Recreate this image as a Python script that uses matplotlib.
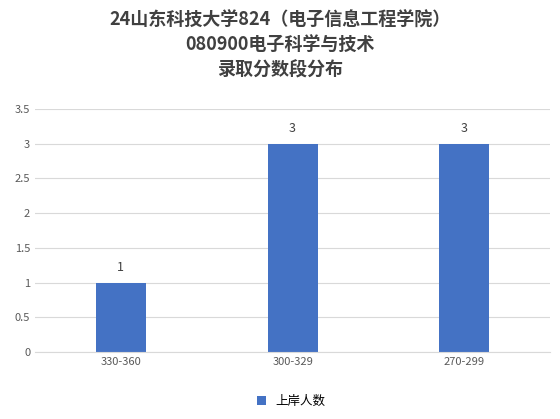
import matplotlib
matplotlib.use("Agg")
import matplotlib.pyplot as plt

categories = ["330-360", "300-329", "270-299"]
values = [1, 3, 3]
yticks = [0, 0.5, 1, 1.5, 2, 2.5, 3, 3.5]

plt.rcParams['font.family'] = ['Noto Sans CJK SC', 'DejaVu Sans']
fig = plt.figure(figsize=(5.6, 4.19), dpi=100)
ax = fig.add_axes([0.0625, 0.16, 0.92, 0.58])
x = range(len(categories))
bars = ax.bar(x, values, width=0.29, color="#4472C4")
for i, v in zip(x, values):
    ax.text(i, v + 0.12, str(v), ha="center", va="bottom", fontsize=9, color="#404040")
ax.set_xticks(list(x))
ax.set_xticklabels(categories, fontsize=8, color="#595959")
ax.set_yticks(yticks)
ax.set_yticklabels([f"{t:g}" for t in yticks], fontsize=8, color="#595959")
ax.set_ylim(0, 3.5)
ax.set_xlim(-0.5, 2.5)
ax.grid(axis="y", color="#d9d9d9", linewidth=0.8)
ax.set_axisbelow(True)
for s in ["top", "right", "left"]:
    ax.spines[s].set_visible(False)
ax.spines["bottom"].set_color("#d9d9d9")
ax.tick_params(length=0)
fig.text(0.5, 0.975, "24山东科技大学824（电子信息工程学院）\n080900电子科学与技术\n录取分数段分布",
         ha="center", va="top", fontsize=13, fontweight="bold", color="#404040", linespacing=1.4)
fig.legend(handles=[bars], labels=["上岸人数"], loc="lower center", bbox_to_anchor=(0.52, 0.0),
           frameon=False, fontsize=9, handlelength=0.7, handleheight=0.7)
fig.savefig("out.png")
